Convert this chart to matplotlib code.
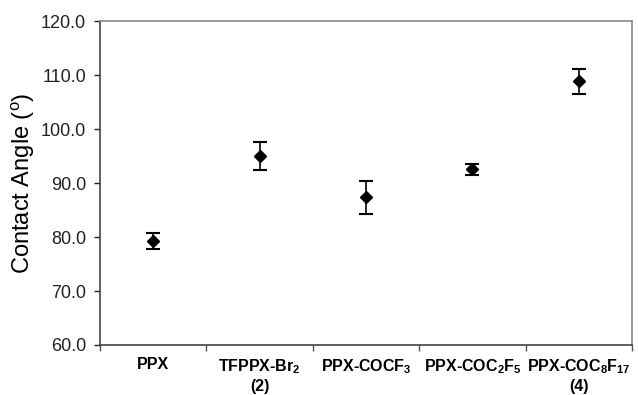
import matplotlib
matplotlib.use("Agg")
import matplotlib.pyplot as plt
from matplotlib.ticker import FixedLocator, FormatStrFormatter

plt.rcParams['font.family'] = ['Liberation Sans', 'DejaVu Sans']
plt.rcParams['mathtext.fontset'] = 'custom'
plt.rcParams['mathtext.rm'] = 'Liberation Sans'
plt.rcParams['mathtext.bf'] = 'Liberation Sans:bold'

categories = ['PPX', 'TFPPX-Br$_\\mathbf{2}$\n(2)', 'PPX-COCF$_\\mathbf{3}$',
              'PPX-COC$_\\mathbf{2}$F$_\\mathbf{5}$', 'PPX-COC$_\\mathbf{8}$F$_\\mathbf{17}$\n(4)']
angles = [79.3, 95.1, 87.4, 92.6, 108.9]
errors = [1.5, 2.6, 3.1, 1.0, 2.3]
yticks = [60, 70, 80, 90, 100, 110, 120]

fig = plt.figure(figsize=(6.38, 3.95), dpi=100)
ax = fig.add_axes([0.1567, 0.1266, 0.834, 0.819])

x = list(range(len(categories)))
ax.errorbar(x, angles, yerr=errors, fmt='D', color='black', markersize=6,
            ecolor='black', elinewidth=1.2, capsize=5, capthick=1.5)

ax.set_xlim(-0.5, len(categories) - 0.5)
ax.set_ylim(60, 120)
ax.set_yticks(yticks)
ax.yaxis.set_major_formatter(FormatStrFormatter('%.1f'))
ax.tick_params(axis='y', direction='out', length=4, width=1, labelsize=13,
               colors='#222222', pad=6)

ax.set_xticks(x)
ax.set_xticklabels(categories, fontweight='bold', fontsize=11.5, linespacing=1.2)
ax.tick_params(axis='x', which='major', length=0, pad=9)
ax.xaxis.set_minor_locator(FixedLocator([i + 0.5 for i in range(-1, len(categories))]))
ax.tick_params(axis='x', which='minor', direction='out', length=4, width=1, color='#555555')

ax.set_ylabel('Contact Angle ($^{\\mathrm{o}}$)', fontsize=17, labelpad=3)

for s in ['left', 'bottom']:
    ax.spines[s].set_color('#444444')
    ax.spines[s].set_linewidth(1.2)
for s in ['top', 'right']:
    ax.spines[s].set_color('#888888')
    ax.spines[s].set_linewidth(1.2)

fig.savefig('out.png', dpi=100)
